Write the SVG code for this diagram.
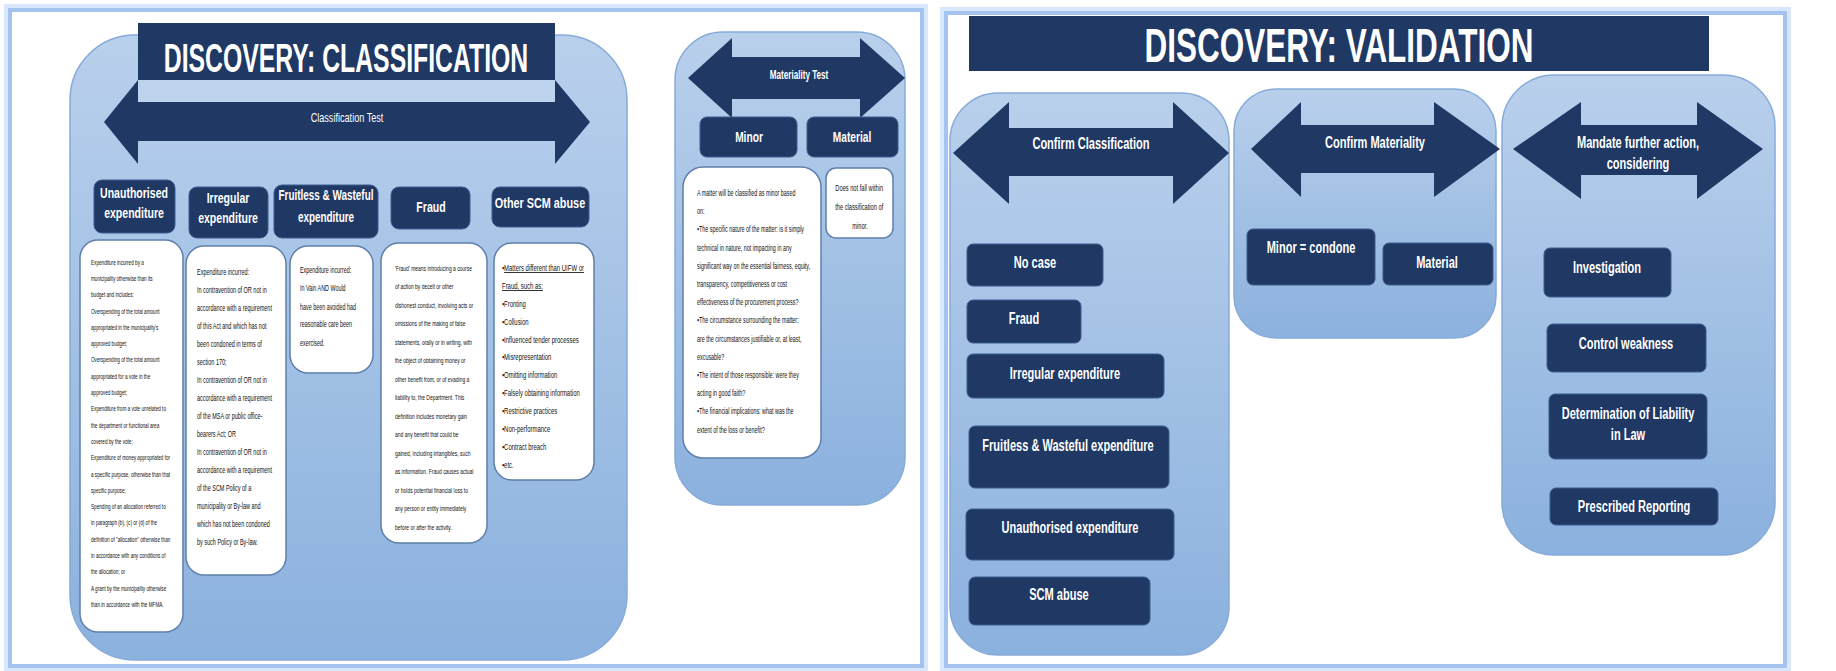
<svg xmlns="http://www.w3.org/2000/svg" width="1836" height="671" viewBox="0 0 1836 671">
<defs>
<linearGradient id="gc" x1="0" y1="0" x2="0" y2="1"><stop offset="0" stop-color="#b9d0ec"/><stop offset="1" stop-color="#8bb1de"/></linearGradient>
<style>
.glow{fill:none;stroke:#d8e7fb;stroke-width:12}
.panel{fill:#fff;stroke:#a4c4ef;stroke-width:4}
.cont{fill:url(#gc);stroke:#86abd9;stroke-width:1.5}
.dark{fill:#1f3864;stroke:#3d5d8f;stroke-width:1}
.card{fill:#fff;stroke:#5f7fab;stroke-width:1.5}
.arrow{fill:#1f3864}
.lbl{font-family:"Liberation Sans",Arial,sans-serif;font-weight:bold;fill:#fff;text-anchor:middle}
.lbn{font-family:"Liberation Sans",Arial,sans-serif;font-weight:normal;fill:#fff;text-anchor:middle}
.body{font-family:"Liberation Sans",Arial,"DejaVu Sans",sans-serif;fill:#111}
.ctr{text-anchor:middle}
.title{font-family:"Liberation Sans",Arial,sans-serif;font-weight:bold;fill:#fff;text-anchor:middle}
</style>
</defs>

<!-- panels -->
<g id="panel-classification">
<rect class="glow" x="10" y="10" width="912" height="656"/>
<rect class="panel" x="10" y="10" width="912" height="656"/>
</g>
<g id="panel-validation">
<rect class="glow" x="946" y="13" width="839" height="653"/>
<rect class="panel" x="946" y="13" width="839" height="653"/>
</g>

<!-- ===== LEFT: CLASSIFICATION ===== -->
<g id="classification-container">
<rect class="cont" x="70" y="35" width="557" height="625" rx="65" ry="65"/>
</g>
<g id="title-classification">
<rect x="138" y="80" width="417" height="22" fill="#bed4ee"/>
<rect x="138" y="23" width="417" height="57" fill="#1f3864"/>
<g transform="translate(346,0) scale(0.62,1)"><text class="title" x="0" y="72" font-size="40">DISCOVERY: CLASSIFICATION</text></g>
</g>
<g id="classification-test">
<polygon class="arrow" points="104,122 138,80 138,102 555,102 555,80 590,122 555,164 555,141 138,141 138,164"/>
<g transform="translate(347,0) scale(0.7,1)"><text class="lbn" x="0" y="122.5" font-size="13">Classification Test</text></g>
</g>

<g id="cat-unauthorised">
<rect class="dark" x="94" y="180" width="81" height="53" rx="8"/>
<g transform="translate(134,0) scale(0.68,1)"><text class="lbl" font-size="15.5"><tspan x="0" y="198.5">Unauthorised</tspan><tspan x="0" y="218.5">expenditure</tspan></text></g>
</g>
<g id="cat-irregular">
<rect class="dark" x="189" y="187" width="79" height="51" rx="8"/>
<g transform="translate(228,0) scale(0.68,1)"><text class="lbl" font-size="15.5"><tspan x="0" y="203.5">Irregular</tspan><tspan x="0" y="223.5">expenditure</tspan></text></g>
</g>
<g id="cat-fruitless">
<rect class="dark" x="274" y="185" width="104" height="53" rx="8"/>
<g transform="translate(326,0) scale(0.64,1)"><text class="lbl" font-size="15.5"><tspan x="0" y="200.5">Fruitless &amp; Wasteful</tspan><tspan x="0" y="222.5">expenditure</tspan></text></g>
</g>
<g id="cat-fraud">
<rect class="dark" x="391" y="187" width="79" height="42" rx="8"/>
<g transform="translate(431,0) scale(0.68,1)"><text class="lbl" x="0" y="212.5" font-size="15.5">Fraud</text></g>
</g>
<g id="cat-other-scm">
<rect class="dark" x="492" y="187" width="97" height="40" rx="8"/>
<g transform="translate(540,0) scale(0.7,1)"><text class="lbl" x="0" y="208.5" font-size="15.5">Other SCM abuse</text></g>
</g>

<g id="def-unauthorised">
<rect class="card" x="80" y="240" width="103" height="392" rx="18"/>
<g transform="translate(91,0) scale(0.62,1)"><text class="body" font-size="7.5">
<tspan x="0" y="264.7">Expenditure incurred by a</tspan>
<tspan x="0" y="281.0">municipality otherwise than its</tspan>
<tspan x="0" y="297.3">budget and includes:</tspan>
<tspan x="0" y="313.6">Overspending of the total amount</tspan>
<tspan x="0" y="329.9">appropriated in the municipality's</tspan>
<tspan x="0" y="346.2">approved budget;</tspan>
<tspan x="0" y="362.5">Overspending of the total amount</tspan>
<tspan x="0" y="378.8">appropriated for a vote in the</tspan>
<tspan x="0" y="395.1">approved budget;</tspan>
<tspan x="0" y="411.4">Expenditure from a vote unrelated to</tspan>
<tspan x="0" y="427.7">the department or functional area</tspan>
<tspan x="0" y="444.0">covered by the vote;</tspan>
<tspan x="0" y="460.3">Expenditure of money appropriated for</tspan>
<tspan x="0" y="476.6">a specific purpose, otherwise than that</tspan>
<tspan x="0" y="492.9">specific purpose;</tspan>
<tspan x="0" y="509.2">Spending of an allocation referred to</tspan>
<tspan x="0" y="525.5">in paragraph (b), (c) or (d) of the</tspan>
<tspan x="0" y="541.8">definition of "allocation" otherwise than</tspan>
<tspan x="0" y="558.1">in accordance with any conditions of</tspan>
<tspan x="0" y="574.4">the allocation; or</tspan>
<tspan x="0" y="590.7">A grant by the municipality otherwise</tspan>
<tspan x="0" y="607.0">than in accordance with the MFMA.</tspan>
</text></g>
</g>

<g id="def-irregular">
<rect class="card" x="186" y="246" width="100" height="329" rx="18"/>
<g transform="translate(197,0) scale(0.646,1)"><text class="body" font-size="8.5">
<tspan x="0" y="275">Expenditure incurred:</tspan>
<tspan x="0" y="293">In contravention of OR not in</tspan>
<tspan x="0" y="311">accordance with a requirement</tspan>
<tspan x="0" y="329">of this Act and which has not</tspan>
<tspan x="0" y="347">been condoned in terms of</tspan>
<tspan x="0" y="365">section 170;</tspan>
<tspan x="0" y="383">In contravention of OR not in</tspan>
<tspan x="0" y="401">accordance with a requirement</tspan>
<tspan x="0" y="419">of the MSA or public office-</tspan>
<tspan x="0" y="437">bearers Act; OR</tspan>
<tspan x="0" y="455">In contravention of OR not in</tspan>
<tspan x="0" y="473">accordance with a requirement</tspan>
<tspan x="0" y="491">of the SCM Policy of a</tspan>
<tspan x="0" y="509">municipality or By-law and</tspan>
<tspan x="0" y="527">which has not been condoned</tspan>
<tspan x="0" y="545">by such Policy or By-law.</tspan>
</text></g>
</g>

<g id="def-fruitless">
<rect class="card" x="290" y="246" width="83" height="127" rx="18"/>
<g transform="translate(300,0) scale(0.634,1)"><text class="body" font-size="8.5">
<tspan x="0" y="273">Expenditure incurred:</tspan>
<tspan x="0" y="291"> In Vain AND Would</tspan>
<tspan x="0" y="310">have been avoided had</tspan>
<tspan x="0" y="327">reasonable care been</tspan>
<tspan x="0" y="346">exercised.</tspan>
</text></g>
</g>

<g id="def-fraud">
<rect class="card" x="381" y="243" width="106" height="300" rx="18"/>
<g transform="translate(395,0) scale(0.62,1)"><text class="body" font-size="8">
<tspan x="0" y="270.8">'Fraud' means introducing a course</tspan>
<tspan x="0" y="289.3">of action by deceit or other</tspan>
<tspan x="0" y="307.8">dishonest conduct, involving acts or</tspan>
<tspan x="0" y="326.3">omissions of the making of false</tspan>
<tspan x="0" y="344.8">statements, orally or in writing, with</tspan>
<tspan x="0" y="363.3">the object of obtaining money or</tspan>
<tspan x="0" y="381.8">other benefit from, or of evading a</tspan>
<tspan x="0" y="400.3">liability to, the Department. This</tspan>
<tspan x="0" y="418.8">definition includes monetary gain</tspan>
<tspan x="0" y="437.3">and any benefit that could be</tspan>
<tspan x="0" y="455.8">gained, including intangibles, such</tspan>
<tspan x="0" y="474.3">as information. Fraud causes actual</tspan>
<tspan x="0" y="492.8">or holds potential financial loss to</tspan>
<tspan x="0" y="511.3">any person or entity immediately</tspan>
<tspan x="0" y="529.8">before or after the activity.</tspan>
</text></g>
</g>

<g id="def-other-scm">
<rect class="card" x="494" y="243" width="100" height="237" rx="18"/>
<g transform="translate(502,0) scale(0.7,1)"><text class="body" font-size="8.5">
<tspan x="0" y="271">▪<tspan text-decoration="underline">Matters different than UIFW or</tspan></tspan>
<tspan x="0" y="288.9" text-decoration="underline">Fraud, such as:</tspan>
<tspan x="0" y="306.8">▪Fronting</tspan>
<tspan x="0" y="324.7">▪Collusion</tspan>
<tspan x="0" y="342.6">▪Influenced tender processes</tspan>
<tspan x="0" y="360.5">▪Misrepresentation</tspan>
<tspan x="0" y="378.4">▪Omitting information</tspan>
<tspan x="0" y="396.3">▪Falsely obtaining information</tspan>
<tspan x="0" y="414.2">▪Restrictive practices</tspan>
<tspan x="0" y="432.1">▪Non-performance</tspan>
<tspan x="0" y="450.0">▪Contract breach</tspan>
<tspan x="0" y="467.9">▪etc.</tspan>
</text></g>
</g>

<!-- Materiality -->
<g id="materiality-container">
<rect class="cont" x="675" y="32" width="230" height="473" rx="48" ry="48"/>
</g>
<g id="materiality-test">
<polygon class="arrow" points="688,78 732,38 732,57 860,57 860,38 905,78 860,118 860,99 732,99 732,118"/>
<g transform="translate(799,0) scale(0.65,1)"><text class="lbl" x="0" y="79.5" font-size="12.5">Materiality Test</text></g>
</g>
<g id="mat-minor">
<rect class="dark" x="700" y="117" width="97" height="40" rx="7"/>
<g transform="translate(749,0) scale(0.68,1)"><text class="lbl" x="0" y="142.5" font-size="15">Minor</text></g>
</g>
<g id="mat-material">
<rect class="dark" x="807" y="117" width="91" height="40" rx="7"/>
<g transform="translate(852,0) scale(0.68,1)"><text class="lbl" x="0" y="142.5" font-size="15">Material</text></g>
</g>
<g id="def-minor">
<rect class="card" x="683" y="167" width="138" height="291" rx="20"/>
<g transform="translate(697,0) scale(0.635,1)"><text class="body" font-size="8.5">
<tspan x="0" y="196">A matter will be classified as minor based</tspan>
<tspan x="0" y="214.2">on:</tspan>
<tspan x="0" y="232.4">▪The specific nature of the matter: is it simply</tspan>
<tspan x="0" y="250.6">technical in nature, not impacting in any</tspan>
<tspan x="0" y="268.8">significant way on the essential fairness, equity,</tspan>
<tspan x="0" y="287.0">transparency, competitiveness or cost</tspan>
<tspan x="0" y="305.2">effectiveness of the procurement process?</tspan>
<tspan x="0" y="323.4">▪The circumstance surrounding the matter:</tspan>
<tspan x="0" y="341.6">are the circumstances justifiable or, at least,</tspan>
<tspan x="0" y="359.8">excusable?</tspan>
<tspan x="0" y="378.0">▪The intent of those responsible: were they</tspan>
<tspan x="0" y="396.2">acting in good faith?</tspan>
<tspan x="0" y="414.4">▪The financial implications: what was the</tspan>
<tspan x="0" y="432.6">extent of the loss or benefit?</tspan>
</text></g>
</g>
<g id="def-material">
<rect class="card" x="826" y="168" width="67" height="70" rx="10"/>
<g transform="translate(860,0) scale(0.67,1)"><text class="body ctr" font-size="8.5">
<tspan x="0" y="191">Does not fall within</tspan>
<tspan x="0" y="210">the classification of</tspan>
<tspan x="0" y="229">minor.</tspan>
</text></g>
</g>

<!-- ===== RIGHT: VALIDATION ===== -->
<g id="title-validation">
<rect x="969" y="16" width="740" height="55" fill="#1f3864"/>
<g transform="translate(1339,0) scale(0.656,1)"><text class="title" x="0" y="62" font-size="48">DISCOVERY: VALIDATION</text></g>
</g>

<g id="confirm-classification-container">
<rect class="cont" x="950" y="93" width="279" height="562" rx="48" ry="48"/>
</g>
<g id="confirm-classification">
<polygon class="arrow" points="953,153 1009,102 1009,128 1173,128 1173,102 1229,153 1173,204 1173,176 1009,176 1009,204"/>
<g transform="translate(1091,0) scale(0.65,1)"><text class="lbl" x="0" y="149" font-size="17">Confirm Classification</text></g>
</g>
<g id="cc-no-case">
<rect class="dark" x="967" y="244" width="136" height="42" rx="6"/>
<g transform="translate(1035,0) scale(0.65,1)"><text class="lbl" x="0" y="268" font-size="17">No case</text></g>
</g>
<g id="cc-fraud">
<rect class="dark" x="967" y="300" width="114" height="43" rx="6"/>
<g transform="translate(1024,0) scale(0.65,1)"><text class="lbl" x="0" y="324" font-size="17">Fraud</text></g>
</g>
<g id="cc-irregular">
<rect class="dark" x="967" y="354" width="197" height="44" rx="6"/>
<g transform="translate(1065,0) scale(0.65,1)"><text class="lbl" x="0" y="379" font-size="17">Irregular expenditure</text></g>
</g>
<g id="cc-fruitless">
<rect class="dark" x="969" y="426" width="200" height="62" rx="6"/>
<g transform="translate(1068,0) scale(0.65,1)"><text class="lbl" x="0" y="451" font-size="17">Fruitless &amp; Wasteful expenditure</text></g>
</g>
<g id="cc-unauthorised">
<rect class="dark" x="966" y="509" width="208" height="51" rx="6"/>
<g transform="translate(1070,0) scale(0.65,1)"><text class="lbl" x="0" y="533" font-size="17">Unauthorised expenditure</text></g>
</g>
<g id="cc-scm-abuse">
<rect class="dark" x="969" y="577" width="181" height="48" rx="6"/>
<g transform="translate(1059,0) scale(0.65,1)"><text class="lbl" x="0" y="600" font-size="17">SCM abuse</text></g>
</g>

<g id="confirm-materiality-container">
<rect class="cont" x="1234" y="89" width="262" height="249" rx="42" ry="42"/>
</g>
<g id="confirm-materiality">
<polygon class="arrow" points="1251,149 1301,102 1301,125 1434,125 1434,102 1500,149 1434,197 1434,173 1301,173 1301,197"/>
<g transform="translate(1375,0) scale(0.65,1)"><text class="lbl" x="0" y="148" font-size="17">Confirm Materiality</text></g>
</g>
<g id="cm-minor-condone">
<rect class="dark" x="1247" y="229" width="128" height="56" rx="6"/>
<g transform="translate(1311,0) scale(0.65,1)"><text class="lbl" x="0" y="253" font-size="17">Minor = condone</text></g>
</g>
<g id="cm-material">
<rect class="dark" x="1383" y="243" width="110" height="42" rx="6"/>
<g transform="translate(1437,0) scale(0.65,1)"><text class="lbl" x="0" y="268" font-size="17">Material</text></g>
</g>

<g id="mandate-container">
<rect class="cont" x="1502" y="75" width="273" height="480" rx="52" ry="52"/>
</g>
<g id="mandate-further-action">
<polygon class="arrow" points="1513,149 1581,102 1581,125 1697,125 1697,102 1763,149 1697,199 1697,175 1581,175 1581,199"/>
<g transform="translate(1638,0) scale(0.65,1)"><text class="lbl" font-size="17"><tspan x="0" y="148">Mandate further action,</tspan><tspan x="0" y="169">considering</tspan></text></g>
</g>
<g id="ma-investigation">
<rect class="dark" x="1544" y="248" width="127" height="49" rx="6"/>
<g transform="translate(1607,0) scale(0.65,1)"><text class="lbl" x="0" y="273" font-size="17">Investigation</text></g>
</g>
<g id="ma-control-weakness">
<rect class="dark" x="1547" y="324" width="159" height="48" rx="6"/>
<g transform="translate(1626,0) scale(0.65,1)"><text class="lbl" x="0" y="349" font-size="17">Control weakness</text></g>
</g>
<g id="ma-liability">
<rect class="dark" x="1549" y="394" width="158" height="65" rx="6"/>
<g transform="translate(1628,0) scale(0.65,1)"><text class="lbl" font-size="17"><tspan x="0" y="419">Determination of Liability</tspan><tspan x="0" y="440">in Law</tspan></text></g>
</g>
<g id="ma-reporting">
<rect class="dark" x="1550" y="488" width="168" height="37" rx="6"/>
<g transform="translate(1634,0) scale(0.65,1)"><text class="lbl" x="0" y="512" font-size="17">Prescribed Reporting</text></g>
</g>

<g id="connectors"/>
</svg>
